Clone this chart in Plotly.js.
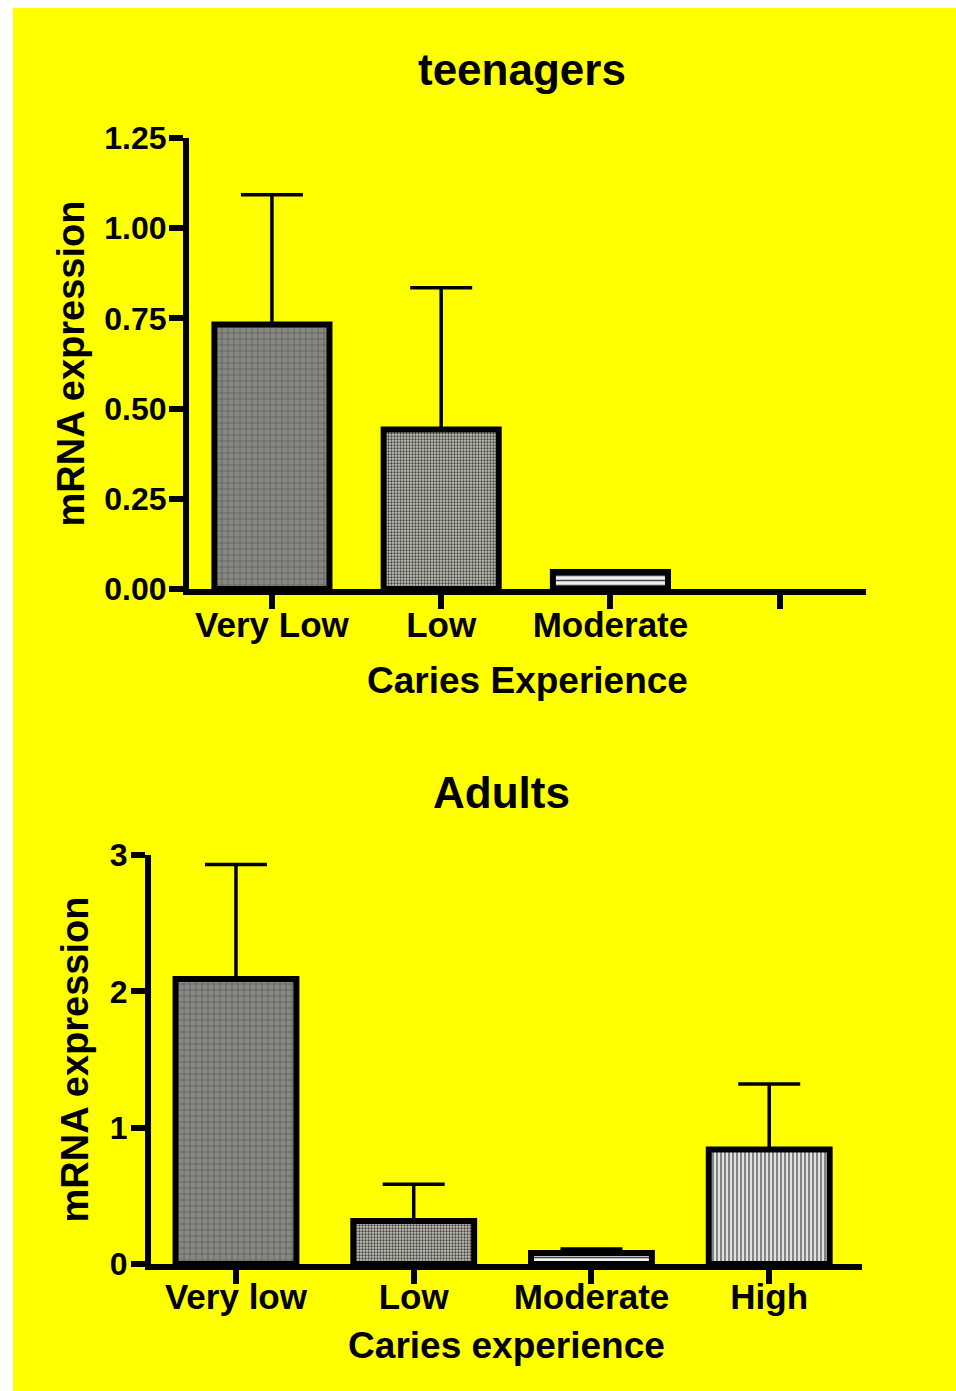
<!DOCTYPE html>
<html><head><meta charset="utf-8">
<script src="https://cdn.plot.ly/plotly-3.0.1.min.js"></script>
<style>
html,body{margin:0;padding:0;background:#fff;}
#bg{position:absolute;left:13px;top:8px;width:943px;height:1383px;background:#ffff00;}
#chart{position:absolute;left:0;top:0;width:956px;height:1391px;}
</style></head><body><div id="bg"></div><div id="chart"></div>
<script>
// ---- data ----
const teenCategories = ['Very Low', 'Low', 'Moderate', ''];
const teenMeans = [0.733, 0.442, 0.047, null];
const teenSEM = [0.36, 0.393, 0, null];
const adultCategories = ['Very low', 'Low', 'Moderate', 'High'];
const adultMeans = [2.09, 0.315, 0.08, 0.84];
const adultSEM = [0.84, 0.27, 0.03, 0.48];
const teenYTicks = [0, 0.25, 0.5, 0.75, 1.0, 1.25];
const teenYTickLabels = ['0.00', '0.25', '0.50', '0.75', '1.00', '1.25'];
const adultYTicks = [0, 1, 2, 3];
const adultYTickLabels = ['0', '1', '2', '3'];

// ---- styles ----
const FONT = 'Liberation Sans, Arial, sans-serif';
const patShapes = ['+', '.', '-', '|'];
const barBase = ['#878782', '#c4c4b8', '#f0f0f0', '#e2e2e2'];
const patFg = ['#a2a26c', '#3c3c3c', '#8c8c8c', '#5c5c5c'];
const patSize = [6, 3, 5, 4];
const patSolid = [0.15, 0.45, 0.3, 0.3];

function barTrace(cats, means, sem, xa, ya) {
  return {
    type: 'bar',
    x: cats.map((c, i) => i),
    y: means,
    xaxis: xa, yaxis: ya,
    width: 0.68,
    marker: {
      color: barBase,
      line: {color: '#000', width: 6},
      pattern: {shape: patShapes, fgcolor: patFg, fgopacity: 1, size: patSize, solidity: patSolid, fillmode: 'overlay'}
    },
    error_y: {type: 'data', symmetric: false, array: sem, arrayminus: sem.map(() => 0),
      color: '#000', thickness: 3.5, width: 31, visible: true},
    hoverinfo: 'x+y',
    showlegend: false
  };
}

const yTickFont = {family: FONT, size: 32, color: '#000', weight: 'bold'};
const xTickFont = {family: FONT, size: 35, color: '#000', weight: 'bold'};
const xTitleFont = {family: FONT, size: 37, color: '#000', weight: 'bold'};
const yTitleFont = {family: FONT, size: 38, color: '#000', weight: 'bold'};
const axisBase = {
  showgrid: false, zeroline: false, showline: true, linewidth: 6, linecolor: '#000',
  ticks: 'outside', ticklen: 14, tickwidth: 6, tickcolor: '#000',
  automargin: false, fixedrange: true
};

const layout = {
  width: 956, height: 1391,
  margin: {l: 0, r: 0, t: 0, b: 0},
  paper_bgcolor: 'rgba(0,0,0,0)', plot_bgcolor: 'rgba(0,0,0,0)',
  xaxis: Object.assign({}, axisBase, {
    domain: [189/956, 866/956], anchor: 'y', type: 'linear', range: [-0.49, 3.51],
    tickvals: teenCategories.map((c, i) => i), ticktext: teenCategories,
    tickfont: xTickFont, ticklabelstandoff: -14,
    title: {text: 'Caries Experience', font: xTitleFont, standoff: 26}
  }),
  yaxis: Object.assign({}, axisBase, {
    domain: [1 - 589/1391, 1 - 138/1391], anchor: 'x', range: [0, 1.25],
    tickvals: teenYTicks, ticktext: teenYTickLabels,
    tickfont: yTickFont, ticklabelstandoff: -4,
    title: {text: 'mRNA expression', font: yTitleFont, standoff: 10}
  }),
  xaxis2: Object.assign({}, axisBase, {
    domain: [151/956, 862/956], anchor: 'y2', type: 'linear', range: [-0.478, 3.522],
    tickvals: adultCategories.map((c, i) => i), ticktext: adultCategories,
    tickfont: xTickFont, ticklabelstandoff: -17,
    title: {text: 'Caries experience', font: xTitleFont, standoff: 19}
  }),
  yaxis2: Object.assign({}, axisBase, {
    domain: [1 - 1264/1391, 1 - 855/1391], anchor: 'x2', range: [0, 3],
    tickvals: adultYTicks, ticktext: adultYTickLabels,
    tickfont: yTickFont, ticklabelstandoff: -3,
    title: {text: 'mRNA expression', font: yTitleFont, standoff: 12}
  }),
  annotations: [
    {text: 'teenagers', xref: 'paper', yref: 'paper', x: 522/956, y: 1 - 70/1391,
     xanchor: 'center', yanchor: 'middle', showarrow: false,
     font: {family: FONT, size: 44, color: '#000', weight: 'bold'}},
    {text: 'Adults', xref: 'paper', yref: 'paper', x: 502/956, y: 1 - 792/1391,
     xanchor: 'center', yanchor: 'middle', showarrow: false,
     font: {family: FONT, size: 44, color: '#000', weight: 'bold'}}
  ]
};

Plotly.newPlot('chart', [
  barTrace(teenCategories, teenMeans, teenSEM, 'x', 'y'),
  barTrace(adultCategories, adultMeans, adultSEM, 'x2', 'y2')
], layout, {displayModeBar: false, staticPlot: true});
</script></body></html>
